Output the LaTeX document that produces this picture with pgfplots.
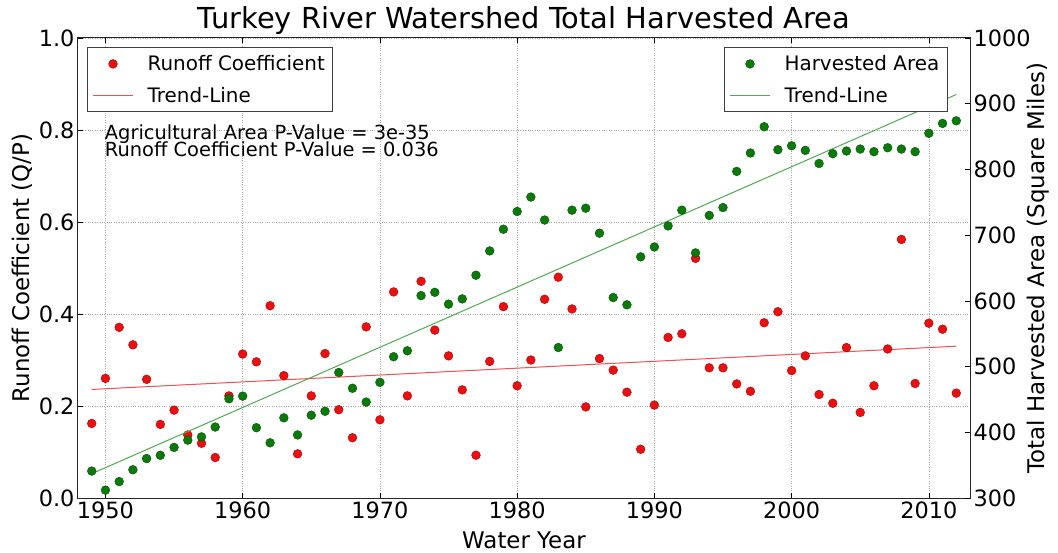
\documentclass[border=0pt]{standalone}
\usepackage{fontspec}
\setmainfont{DejaVu Sans}
\usepackage{pgfplots}
\pgfplotsset{compat=1.18}

\definecolor{mplred}{HTML}{E81010}
\definecolor{mplredge}{HTML}{B00000}
\definecolor{mplgreen}{HTML}{0A7A0A}
\definecolor{mplgedge}{HTML}{055005}
\definecolor{trendred}{HTML}{F05050}
\definecolor{trendgreen}{HTML}{50AA50}

\pgfplotsset{
  every axis/.append style={
    scale only axis, width=892bp, height=460bp,
    xmin=1948, xmax=2013,
    tick align=inside, major tick length=5bp,
    tick style={black, line width=0.6bp},
    axis line style={black!85, line width=1bp},
    tick label style={font=\fontsize{22.5}{26}\selectfont},
    label style={font=\fontsize{23}{27}\selectfont},
    /pgf/number format/assume math mode=true,
    /pgf/number format/1000 sep={},
    legend style={font=\fontsize{20}{23}\selectfont, draw=black!75, line width=0.8bp,
      fill=white, inner xsep=5bp, inner ysep=5bp, row sep=9bp,
      nodes={inner sep=3bp},
      /tikz/every odd column/.append style={column sep=11bp}},
    legend cell align=left,
  },
  redlegend/.style={legend image code/.code={
    \fill[mplred, draw=mplredge, line width=0.4bp] (20bp,0bp) circle[radius=4.4bp];}},
  greenlegend/.style={legend image code/.code={
    \fill[mplgreen, draw=mplgedge, line width=0.4bp] (20bp,0bp) circle[radius=4.4bp];}},
  redline/.style={legend image code/.code={
    \draw[trendred, line width=1.2bp] (0bp,0bp) -- (40bp,0bp);}},
  greenline/.style={legend image code/.code={
    \draw[trendgreen, line width=1.2bp] (0bp,0bp) -- (40bp,0bp);}},
}

\begin{document}
\begin{tikzpicture}
\begin{axis}[
  name=ax,
  ymin=0, ymax=1,
  ytick={0,0.2,...,1.0},
  yticklabel style={/pgf/number format/fixed, /pgf/number format/fixed zerofill, /pgf/number format/precision=1},
  xtick={1950,1960,...,2010},
  ytick pos=left,
  xtick pos=both,
  grid=major,
  major grid style={black!35, dotted, line width=0.6bp},
  title={Turkey River Watershed Total Harvested Area},
  title style={font=\fontsize{29}{33}\selectfont, yshift=-6bp},
  xlabel={Water Year},
  xlabel style={at={(axis description cs:0.5,-0.091)}, anchor=center},
  ylabel={Runoff Coefficient (Q/P)},
  ylabel style={at={(axis description cs:-0.062,0.5)}, anchor=center},
  legend style={at={(0.0101,0.980)}, anchor=north west},
]
% runoff coefficient
\addplot[only marks, mark=*, mark size=4.4bp, mark options={fill=mplred, draw=mplredge, line width=0.4bp}, redlegend] coordinates {
(1949,0.162) (1950,0.260) (1951,0.371) (1952,0.333) (1953,0.258) (1954,0.160)
(1955,0.191) (1956,0.137) (1957,0.119) (1958,0.088) (1959,0.222) (1960,0.313)
(1961,0.296) (1962,0.418) (1963,0.266) (1964,0.096) (1965,0.222) (1966,0.314)
(1967,0.192) (1968,0.131) (1969,0.372) (1970,0.170) (1971,0.448) (1972,0.222)
(1973,0.471) (1974,0.365) (1975,0.309) (1976,0.235) (1977,0.093) (1978,0.297)
(1979,0.416) (1980,0.244) (1981,0.300) (1982,0.432) (1983,0.480) (1984,0.411)
(1985,0.198) (1986,0.303) (1987,0.278) (1988,0.230) (1989,0.106) (1990,0.202)
(1991,0.349) (1992,0.357) (1993,0.521) (1994,0.283) (1995,0.283) (1996,0.248)
(1997,0.232) (1998,0.381) (1999,0.405) (2000,0.277) (2001,0.309) (2002,0.225)
(2003,0.206) (2004,0.327) (2005,0.186) (2006,0.244) (2007,0.324) (2008,0.562)
(2009,0.249) (2010,0.380) (2011,0.367) (2012,0.228)
};
\addlegendentry{Runoff Coefficient}
% trend
\addplot[trendred, line width=1bp, redline] coordinates {(1949,0.236) (2012,0.330)};
\addlegendentry{Trend-Line}
\node[anchor=base west, font=\fontsize{19.5}{24}\selectfont, inner sep=0pt]
  at (rel axis cs:0.030,0.780) {Agricultural Area P-Value = 3e-35};
\node[anchor=base west, font=\fontsize{19.5}{24}\selectfont, inner sep=0pt]
  at (rel axis cs:0.030,0.742) {Runoff Coefficient P-Value = 0.036};
\end{axis}

\begin{axis}[
  ymin=300, ymax=1000,
  ytick={300,400,...,1000},
  axis x line=none,
  axis y line*=right,
  ytick pos=right,
  ylabel={Total Harvested Area (Square Miles)},
  ylabel style={at={(axis description cs:1.076,0.5)}, anchor=center},
  legend style={at={(0.975,0.980)}, anchor=north east},
]
\addplot[only marks, mark=*, mark size=4.4bp, mark options={fill=mplgreen, draw=mplgedge, line width=0.4bp}, greenlegend] coordinates {
(1949,341) (1950,312) (1951,325) (1952,343) (1953,360) (1954,365)
(1955,377) (1956,388) (1957,393) (1958,408) (1959,451) (1960,455)
(1961,407) (1962,384) (1963,422) (1964,396) (1965,426) (1966,432)
(1967,491) (1968,467) (1969,446) (1970,476) (1971,515) (1972,524)
(1973,608) (1974,613) (1975,595) (1976,603) (1977,639) (1978,676)
(1979,709) (1980,736) (1981,758) (1982,723) (1983,529) (1984,738)
(1985,741) (1986,703) (1987,605) (1988,594) (1989,667) (1990,682)
(1991,714) (1992,738) (1993,673) (1994,730) (1995,742) (1996,797)
(1997,825) (1998,865) (1999,830) (2000,836) (2001,829) (2002,809)
(2003,824) (2004,828) (2005,831) (2006,827) (2007,833) (2008,831)
(2009,827) (2010,855) (2011,870) (2012,874)
};
\addlegendentry{Harvested Area}
\addplot[trendgreen, line width=1bp, greenline] coordinates {(1949,337) (2012,914)};
\addlegendentry{Trend-Line}
\end{axis}
\pgfresetboundingbox
\path[use as bounding box] ([shift={(-78bp,-54bp)}]ax.south west) rectangle ([shift={(88bp,38bp)}]ax.north east);
\end{tikzpicture}
\end{document}
